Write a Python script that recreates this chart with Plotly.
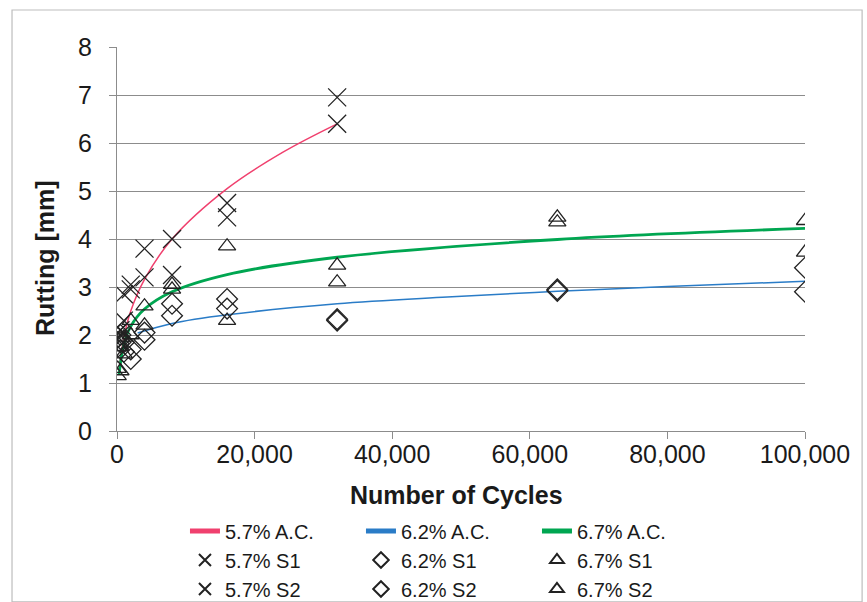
import plotly.graph_objects as go

# Test cycles at which rutting was measured
cycles = [100, 500, 1000, 2000, 4000, 8000, 16000, 32000, 64000, 100000]
cycles_57 = cycles[:8]

# Measured rutting [mm], two specimens per asphalt content
rut_57_s1 = [1.90, 2.00, 2.30, 2.95, 3.20, 3.25, 4.45, 6.40]
rut_57_s2 = [2.05, 2.10, 2.85, 3.05, 3.80, 4.00, 4.75, 6.95]
rut_62_s1 = [1.75, 1.85, 1.65, 1.50, 1.90, 2.40, 2.55, 2.30, 2.92, 2.90]
rut_62_s2 = [1.95, 2.00, 1.85, 1.70, 2.05, 2.65, 2.75, 2.33, 2.95, 3.40]
rut_67_s1 = [1.15, 1.25, 1.60, 2.00, 2.20, 2.95, 2.30, 3.10, 4.35, 3.72]
rut_67_s2 = [1.30, 1.75, 1.95, 2.30, 2.60, 3.05, 3.85, 3.45, 4.45, 4.38]

# Trend curves for each asphalt content (points along the fitted line)
trend_57_x = [300, 500, 1000, 2000, 4000, 8000, 16000, 24000, 32000]
trend_57_y = [1.30, 1.50, 1.95, 2.50, 3.16, 4.00, 5.05, 5.80, 6.40]
trend_62_x = [3000, 8000, 16000, 32000, 48000, 64000, 80000, 100000]
trend_62_y = [2.04, 2.24, 2.42, 2.65, 2.79, 2.91, 3.01, 3.12]
trend_67_x = [300, 1000, 2000, 4000, 8000, 16000, 32000, 64000, 100000]
trend_67_y = [1.18, 1.81, 2.18, 2.54, 2.90, 3.26, 3.62, 3.99, 4.22]

x_ticks = [0, 20000, 40000, 60000, 80000, 100000]
x_tick_text = ["0", "20,000", "40,000", "60,000", "80,000", "100,000"]

FONT = "Liberation Sans, Arial, sans-serif"
GRID = "#8c8c8c"

fig = go.Figure()

fig.add_trace(go.Scatter(x=trend_57_x, y=trend_57_y, mode="lines", name="5.7% A.C.",
                         line=dict(color="#f0406e", width=1.5, shape="spline")))
fig.add_trace(go.Scatter(x=trend_62_x, y=trend_62_y, mode="lines", name="6.2% A.C.",
                         line=dict(color="#2a7cc7", width=1.5, shape="spline")))
fig.add_trace(go.Scatter(x=trend_67_x, y=trend_67_y, mode="lines", name="6.7% A.C.",
                         line=dict(color="#00a651", width=2.8, shape="spline")))

def pts(x, y, name, symbol, size):
    return go.Scatter(x=x, y=y, mode="markers", name=name,
                      marker=dict(symbol=symbol, size=size, color="#222222",
                                  line=dict(color="#222222", width=1.3)))

fig.add_trace(pts(cycles_57, rut_57_s1, "5.7% S1", "x-thin-open", 18))
fig.add_trace(pts(cycles, rut_62_s1, "6.2% S1", "diamond-open", 16))
fig.add_trace(pts(cycles, rut_67_s1, "6.7% S1", "triangle-up-open", 15))
fig.add_trace(pts(cycles_57, rut_57_s2, "5.7% S2", "x-thin-open", 18))
fig.add_trace(pts(cycles, rut_62_s2, "6.2% S2", "diamond-open", 16))
fig.add_trace(pts(cycles, rut_67_s2, "6.7% S2", "triangle-up-open", 15))

fig.update_layout(
    width=867, height=602,
    margin=dict(l=117, r=62, t=47, b=171, autoexpand=False),
    paper_bgcolor="white", plot_bgcolor="white",
    font=dict(family=FONT, color="#1a1a1a"),
    showlegend=True,
    legend=dict(orientation="h", x=0.0988, xanchor="left", y=-0.2096, yanchor="top",
                entrywidth=131, entrywidthmode="pixels",
                font=dict(size=20, family=FONT), itemsizing="constant",
                bgcolor="rgba(0,0,0,0)", tracegroupgap=0),
    xaxis=dict(range=[0, 100000], tickvals=x_ticks, ticktext=x_tick_text,
               showgrid=False, zeroline=False, showline=True, linecolor=GRID,
               linewidth=1, ticks="outside", ticklen=7, tickcolor=GRID,
               tickfont=dict(size=25, family=FONT), ticklabelstandoff=-6),
    yaxis=dict(range=[0, 8], dtick=1, showgrid=True, gridcolor=GRID, gridwidth=1,
               zeroline=False, showline=True, linecolor=GRID, linewidth=1,
               ticks="outside", ticklen=7, tickcolor=GRID,
               tickfont=dict(size=25, family=FONT), ticklabelstandoff=12),
    annotations=[
        dict(text="<b>Number of Cycles</b>", xref="paper", yref="paper",
             x=0.494, y=-0.1667, xanchor="center", yanchor="middle", showarrow=False,
             font=dict(size=25, family=FONT, color="#1a1a1a")),
        dict(text="<b>Rutting [mm]</b>", xref="paper", yref="paper", textangle=-90,
             x=-0.1047, y=0.4505, xanchor="center", yanchor="middle", showarrow=False,
             font=dict(size=25, family=FONT, color="#1a1a1a")),
    ],
    shapes=[dict(type="rect", xref="paper", yref="paper",
                 x0=-0.1526, x1=1.083, y0=-0.445, y1=1.0964,
                 line=dict(color="#bdbdbd", width=1.2), fillcolor="rgba(0,0,0,0)",
                 layer="below")],
)

fig.write_html("out.html")
